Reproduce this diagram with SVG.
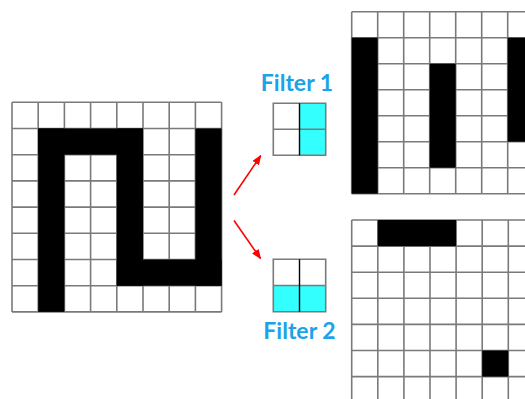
<svg xmlns="http://www.w3.org/2000/svg" width="525" height="399" viewBox="0 0 525 399">
<style>
.grid{fill:none;stroke:#7a7a7a;stroke-width:1.6}
.blk{fill:#000}
.cy{fill:#33ffff}
.mid{stroke:#000;stroke-width:1.4}
.lbl{font-family:Lato,"Open Sans","Liberation Sans",sans-serif;font-weight:bold;font-size:23px;fill:#1aa3e8;text-anchor:middle}
.arr{stroke:#ff0000;stroke-width:1.6;fill:none;marker-end:url(#ah)}
</style>
<defs>
<marker id="ah" markerUnits="userSpaceOnUse" markerWidth="10" markerHeight="8" refX="9" refY="4" orient="auto">
<path d="M0,0 L10,4 L0,8 Z" fill="#ff0000"/>
</marker>
</defs>
<rect width="525" height="399" fill="#fff"/>

<g id="input">
<rect x="12" y="102.3" width="209.6" height="209.6" fill="#fff"/>
<path class="grid" d="M12,102.3V311.9M38.2,102.3V311.9M64.4,102.3V311.9M90.6,102.3V311.9M116.8,102.3V311.9M143,102.3V311.9M169.2,102.3V311.9M195.4,102.3V311.9M221.6,102.3V311.9M12,102.3H221.6M12,128.5H221.6M12,154.7H221.6M12,180.9H221.6M12,207.1H221.6M12,233.3H221.6M12,259.5H221.6M12,285.7H221.6M12,311.9H221.6"/>
<rect class="blk" x="38.2" y="128.5" width="104.8" height="26.2"/>
<rect class="blk" x="38.2" y="128.5" width="26.2" height="183.4"/>
<rect class="blk" x="116.8" y="128.5" width="26.2" height="157.2"/>
<rect class="blk" x="195.4" y="128.5" width="26.2" height="157.2"/>
<rect class="blk" x="116.8" y="259.5" width="104.8" height="26.2"/>
</g>

<g id="filter1">
<text class="lbl" x="297" y="90.5">Filter 1</text>
<rect x="299.5" y="103.3" width="26.2" height="52" class="cy"/>
<path class="grid" d="M273.3,103.3H325.7V155.3H273.3ZM273.3,129.3H325.7"/>
<path class="mid" d="M299.5,103.3V155.3"/>
</g>

<g id="filter2">
<rect x="273.3" y="285.5" width="52.4" height="26.2" class="cy"/>
<path class="grid" d="M273.3,259.3H325.7V311.7H273.3ZM273.3,285.5H325.7"/>
<path class="mid" d="M299.5,259.3V311.7"/>
<text class="lbl" x="299.5" y="338.5">Filter 2</text>
</g>

<g id="output1">
<rect x="351.7" y="11.7" width="182" height="182" fill="#fff"/>
<path class="grid" d="M351.7,11.7V193.7M377.7,11.7V193.7M403.7,11.7V193.7M429.7,11.7V193.7M455.7,11.7V193.7M481.7,11.7V193.7M507.7,11.7V193.7M533.7,11.7V193.7M351.7,11.7H533.7M351.7,37.7H533.7M351.7,63.7H533.7M351.7,89.7H533.7M351.7,115.7H533.7M351.7,141.7H533.7M351.7,167.7H533.7M351.7,193.7H533.7"/>
<rect class="blk" x="351.7" y="37.7" width="26" height="156"/>
<rect class="blk" x="429.7" y="63.7" width="26" height="104"/>
<rect class="blk" x="507.7" y="37.7" width="26" height="104"/>
</g>

<g id="output2">
<rect x="351.7" y="220" width="183" height="183" fill="#fff"/>
<path class="grid" d="M351.7,220V403M377.8,220V403M403.9,220V403M430,220V403M456.1,220V403M482.2,220V403M508.3,220V403M351.7,220H534.4M351.7,246.1H534.4M351.7,272.2H534.4M351.7,298.3H534.4M351.7,324.4H534.4M351.7,350.5H534.4M351.7,376.6H534.4M351.7,402.7H534.4"/>
<rect class="blk" x="377.8" y="220" width="78.3" height="26.1"/>
<rect class="blk" x="482.2" y="350.5" width="26.1" height="26.1"/>
</g>

<g id="connectors">
<line class="arr" x1="234" y1="195" x2="260.7" y2="155.7"/>
<line class="arr" x1="234" y1="220.5" x2="260.5" y2="258.5"/>
</g>
</svg>
